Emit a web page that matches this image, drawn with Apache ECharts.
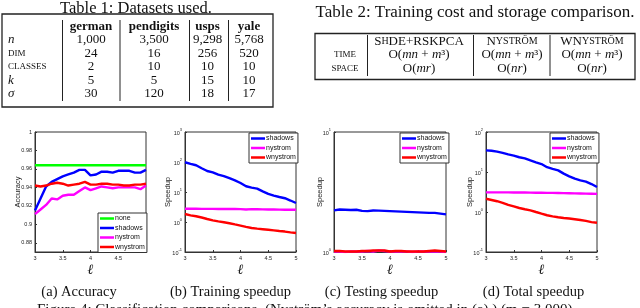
<!DOCTYPE html>
<html><head><meta charset="utf-8">
<script src="https://cdn.jsdelivr.net/npm/echarts@6/dist/echarts.min.js"></script>
<style>html,body{margin:0;padding:0;background:#fff}#c{width:640px;height:308px}</style>
</head><body><div id="c"></div>
<script>
// ---- Table data ----
const t1Title = 'Table 1: Datasets used.';
const t1Cols = ['german', 'pendigits', 'usps', 'yale'];
const t1Rows = ['n', 'DIM', 'CLASSES', 'k', 'σ'];
const t1Vals = [
  ['1,000', '3,500', '9,298', '5,768'],
  ['24', '16', '256', '520'],
  ['2', '10', '10', '10'],
  ['5', '5', '15', '10'],
  ['30', '120', '18', '17']
];
const t2Title = 'Table 2: Training cost and storage comparison.';
const t2Cols = ['{n|S}{sc|H}{n|DE+RSKPCA}', '{n|N}{sc|YSTRÖM}', '{n|WN}{sc|YSTRÖM}'];
const t2Rows = ['TIME', 'SPACE'];
const t2Time = ['{n|O(}{i|mn}{n| + }{i|m}{n|³)}', '{n|O(}{i|mn}{n| + }{i|m}{n|³)}', '{n|O(}{i|mn}{n| + }{i|m}{n|³)}'];
const t2Space = ['{n|O(}{i|mr}{n|)}', '{n|O(}{i|nr}{n|)}', '{n|O(}{i|nr}{n|)}'];
const captions = ['(a) Accuracy', '(b) Training speedup', '(c) Testing speedup', '(d) Total speedup'];
const figCaption = 'Figure 4: Classification comparisons. (Nyström’s accuracy is omitted in (a).) (m = 3,000)';

// ---- Chart data ----
const ell = [3.0, 3.1, 3.2, 3.3, 3.4, 3.5, 3.6, 3.7, 3.8, 3.9, 4.0, 4.1, 4.2, 4.3, 4.4, 4.5, 4.6, 4.7, 4.8, 4.9, 5.0];
const accNone     = [0.964,0.964,0.964,0.964,0.964,0.964,0.964,0.964,0.964,0.964,0.964,0.964,0.964,0.964,0.964,0.964,0.964,0.964,0.964,0.964,0.964];
const accShadows  = [0.915,0.928,0.941,0.946,0.949,0.952,0.954,0.956,0.959,0.959,0.953,0.954,0.957,0.957,0.956,0.958,0.958,0.958,0.956,0.956,0.959];
const accNystrom  = [0.911,0.916,0.921,0.928,0.927,0.931,0.932,0.932,0.936,0.940,0.937,0.939,0.941,0.940,0.939,0.940,0.940,0.940,0.940,0.938,0.942];
const accWnystrom = [0.942,0.941,0.942,0.944,0.945,0.944,0.942,0.943,0.944,0.946,0.943,0.943,0.944,0.944,0.943,0.943,0.942,0.942,0.943,0.943,0.944];
const accTicks = [0.88, 0.9, 0.92, 0.94, 0.96, 0.98, 1];

const trShadows  = [98,87,78,62,50,45,38,34,29,24.5,20,15.5,14,13,10.5,8.7,7.6,6.8,6.2,5.2,4.3];
const trNystrom  = [2.75,2.75,2.75,2.74,2.74,2.73,2.72,2.72,2.71,2.70,2.68,2.62,2.68,2.66,2.64,2.62,2.60,2.58,2.56,2.55,2.55];
const trWnystrom = [1.85,1.66,1.55,1.41,1.26,1.13,1.05,0.98,0.91,0.83,0.76,0.69,0.63,0.60,0.575,0.55,0.525,0.50,0.48,0.45,0.43];

const teShadows  = [2.22,2.26,2.25,2.24,2.25,2.20,2.19,2.22,2.21,2.20,2.19,2.18,2.17,2.16,2.15,2.14,2.13,2.12,2.12,2.09,2.06];
const teNystrom  = [1.01,1.01,1.00,1.01,1.01,1.01,1.02,1.01,1.03,1.02,1.01,1.01,1.01,1.01,1.00,1.01,1.01,1.01,1.01,1.01,1.00];
const teWnystrom = [1.02,1.02,1.01,1.01,1.01,1.02,1.02,1.03,1.03,1.03,1.01,1.02,1.02,1.01,1.01,1.01,1.01,1.02,1.03,1.02,1.01];

const toShadows  = [34.7,33.9,32.4,30.2,27.5,25.7,23.4,21.9,19.5,17.4,15.8,13.2,12.0,11.0,9.1,7.8,6.8,6.2,5.75,5.0,4.2];
const toNystrom  = [3.10,3.09,3.10,3.10,3.09,3.08,3.07,3.06,3.05,3.04,3.03,3.01,3.00,2.98,2.96,2.94,2.92,2.90,2.88,2.86,2.84];
const toWnystrom = [2.14,2.0,1.86,1.70,1.51,1.38,1.26,1.17,1.10,1.0,0.91,0.83,0.78,0.74,0.71,0.69,0.66,0.63,0.60,0.56,0.54];

// ---- Build ----
const SERIF = 'Liberation Serif';
const SANS = 'Liberation Sans';
const colors = {none:'#00ff00', shadows:'#0000ff', nystrom:'#ff00ff', wnystrom:'#ff0000'};
const pts = v => ell.map((x, i) => [x, v[i]]);

const grids = [
  {left:35, top:132, width:111, height:120},
  {left:185, top:132, width:111, height:120},
  {left:334, top:132, width:112, height:120},
  {left:486, top:132, width:111, height:120}
];

function xAx(i, hideLast) {
  return {
    gridIndex:i, type:'value', min:3, max:5, interval:0.5,
    axisLine:{show:true, onZero:false, lineStyle:{color:'#333', width:1}},
    axisTick:{inside:true, length:2, lineStyle:{color:'#333'}},
    splitLine:{show:false},
    axisLabel:{fontSize:5.5, color:'#222', margin:3, fontFamily:SANS,
      formatter: v => (hideLast && v === 5) ? '' : String(v)},
    name:'ℓ', nameLocation:'middle', nameGap:11, nameMoveOverlap:false,
    nameTextStyle:{fontFamily:'DejaVu Serif', fontStyle:'italic', fontSize:14, color:'#111'}
  };
}
const logRich = {b:{fontSize:5.5, color:'#222', fontFamily:SANS, verticalAlign:'bottom', lineHeight:8},
                 s:{fontSize:4, color:'#222', fontFamily:SANS, verticalAlign:'top', lineHeight:8}};
function logAx(i, mn, mx, gap) {
  return {
    gridIndex:i, type:'log', logBase:10, min:mn, max:mx,
    axisLine:{show:true, lineStyle:{color:'#333', width:1}},
    axisTick:{inside:true, length:2, lineStyle:{color:'#333'}},
    splitLine:{show:false},
    axisLabel:{margin:3, formatter: v => '{b|10}{s|' + Math.round(Math.log10(v)) + '}', rich:logRich},
    name:'Speedup', nameLocation:'middle', nameGap:gap, nameMoveOverlap:false,
    nameTextStyle:{fontSize:7.5, fontFamily:SANS, color:'#222'}
  };
}

const xAxis = [xAx(0, true), xAx(1), xAx(2), xAx(3)];
const yAxis = [
  {gridIndex:0, type:'value', min:0.87, max:1,
   axisLine:{show:true, lineStyle:{color:'#333', width:1}},
   axisTick:{inside:true, length:2, customValues:accTicks, lineStyle:{color:'#333'}},
   splitLine:{show:false},
   axisLabel:{customValues:accTicks, fontSize:5.5, color:'#222', margin:3, fontFamily:SANS,
     formatter: v => String(Number((+v).toFixed(2)))},
   name:'Accuracy', nameLocation:'middle', nameGap:13, nameMoveOverlap:false,
   nameTextStyle:{fontSize:7.5, fontFamily:SANS, color:'#222'}},
  logAx(1, 0.1, 1000, 13),
  logAx(2, 1, 10, 10),
  logAx(3, 0.1, 100, 12)
];

function ser(name, gi, vals) {
  return {type:'line', name, xAxisIndex:gi, yAxisIndex:gi, data:pts(vals), showSymbol:false,
    lineStyle:{color:colors[name], width:2.4}, itemStyle:{color:colors[name]}, animation:false, z:3};
}
const series = [
  ser('none', 0, accNone), ser('shadows', 0, accShadows), ser('nystrom', 0, accNystrom), ser('wnystrom', 0, accWnystrom),
  ser('shadows', 1, trShadows), ser('nystrom', 1, trNystrom), ser('wnystrom', 1, trWnystrom),
  ser('shadows', 2, teShadows), ser('nystrom', 2, teNystrom), ser('wnystrom', 2, teWnystrom),
  ser('shadows', 3, toShadows), ser('nystrom', 3, toNystrom), ser('wnystrom', 3, toWnystrom)
];

function leg(data, left, top) {
  return {data, left, top, orient:'vertical', icon:'rect', itemWidth:14, itemHeight:2.5, itemGap:0.5,
    padding:[1,2,1,2], backgroundColor:'#fff', borderColor:'#333', borderWidth:1, selectedMode:false,
    textStyle:{fontSize:7, fontFamily:SANS, color:'#111', padding:[0,0,0,-4], lineHeight:9}, z:10};
}
const legend = [
  leg(['none','shadows','nystrom','wnystrom'], 98, 213),
  leg(['shadows','nystrom','wnystrom'], 249, 133),
  leg(['shadows','nystrom','wnystrom'], 400, 133),
  leg(['shadows','nystrom','wnystrom'], 550, 133)
];

// ---- graphics (tables + captions) ----
const g = [];
function txt(text, x, y, size, opt) {
  opt = opt || {};
  g.push({type:'text', silent:true, style:Object.assign({text, x, y, fontSize:size, fontFamily:SERIF, fill:'#111',
    align:'center', verticalAlign:'middle'}, opt)});
}
function ln(x1, y1, x2, y2, w) {
  g.push({type:'line', silent:true, shape:{x1, y1, x2, y2}, style:{stroke:'#222', lineWidth:w || 1}});
}
function box(x, y, w, h) {
  g.push({type:'rect', silent:true, shape:{x, y, width:w, height:h}, style:{fill:'none', stroke:'#222', lineWidth:1.3}});
}
// Table 1
txt(t1Title, 136, 8.5, 16.5);
box(2, 14, 271, 93);
const t1ColX = [91, 154, 207.5, 249];
const t1RowY = [40, 53.5, 67, 80.5, 94];
[62.5, 120, 189.5, 228.5].forEach(x => ln(x, 20, x, 101));
t1Cols.forEach((c, j) => txt(c, t1ColX[j], 26.5, 13, {fontWeight:'bold'}));
t1Rows.forEach((r, i) => {
  const sc = (r === 'DIM' || r === 'CLASSES');
  txt(r, 8, t1RowY[i], sc ? 9 : 13, {align:'left', fontStyle: sc ? 'normal' : 'italic'});
  t1Vals[i].forEach((v, j) => txt(v, t1ColX[j], t1RowY[i], 13));
});
// Table 2
txt(t2Title, 475, 13, 17);
box(315, 33.5, 320, 46);
[367.5, 473.5, 550].forEach(x => ln(x, 35, x, 76));
const rich2 = {n:{fontSize:13, fontFamily:SERIF, fill:'#111'}, sc:{fontSize:10, fontFamily:SERIF, fill:'#111'},
               i:{fontSize:13, fontFamily:SERIF, fontStyle:'italic', fill:'#111'}};
const t2ColX = [419, 512, 592];
t2Cols.forEach((c, j) => txt(c, t2ColX[j], 41.5, 13, {rich:rich2}));
t2Rows.forEach((r, i) => txt(r, 345, 55 + i * 13.5, 9));
t2Time.forEach((c, j) => txt(c, t2ColX[j], 55, 13, {rich:rich2}));
t2Space.forEach((c, j) => txt(c, t2ColX[j], 68.5, 13, {rich:rich2}));
// captions
const capX = [79, 230.5, 381.5, 533.5];
captions.forEach((c, i) => txt(c, capX[i], 292.5, 14.5));
txt(figCaption, 37, 303, 15, {align:'left', verticalAlign:'top'});

const chart = echarts.init(document.getElementById('c'), null, {renderer:'canvas'});
chart.setOption({
  animation:false,
  backgroundColor:'#fff',
  grid: grids.map(gr => Object.assign({show:true, borderColor:'#333', borderWidth:1, backgroundColor:'#fff'}, gr)),
  xAxis, yAxis, series, legend, graphic:g
});
</script></body></html>
